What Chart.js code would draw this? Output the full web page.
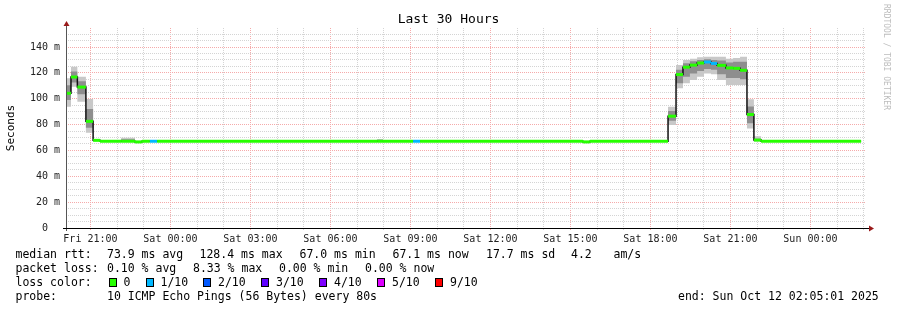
<!DOCTYPE html>
<html>
<head>
<meta charset="utf-8">
<script src="https://cdn.jsdelivr.net/npm/chart.js@4.4.1/dist/chart.umd.min.js"></script>
<style>
  html, body { margin: 0; padding: 0; background: #fff; }
  #wrap { position: relative; width: 897px; height: 310px; font-family: 'DejaVu Sans Mono', monospace; color: #000; overflow: hidden; }
  #chart { position: absolute; left: 0; top: 0; }
  #title { position: absolute; left: 0; top: 11px; width: 897px; text-align: center; font-size: 13px; line-height: 16px; }
  #credit { position: absolute; left: 882px; top: 4px; writing-mode: vertical-rl; font-size: 8px; line-height: 9px; color: #bdbdbd; }
  .t { position: absolute; white-space: pre; font-size: 11.5px; line-height: 14px; }
  .box { position: absolute; width: 6px; height: 7px; border: 1px solid #000; }
</style>
</head>
<body>
<div id="wrap">
  <canvas id="chart" width="897" height="310"></canvas>
  <div id="title">Last 30 Hours</div>
  <div id="credit">RRDTOOL / TOBI OETIKER</div>

  <span class="t" style="left:15.5px;top:247px">median rtt:</span>
  <span class="t" style="left:107px;top:247px">73.9 ms avg</span>
  <span class="t" style="left:199.5px;top:247px">128.4 ms max</span>
  <span class="t" style="left:299.5px;top:247px">67.0 ms min</span>
  <span class="t" style="left:392.5px;top:247px">67.1 ms now</span>
  <span class="t" style="left:486px;top:247px">17.7 ms sd</span>
  <span class="t" style="left:571px;top:247px">4.2</span>
  <span class="t" style="left:613.5px;top:247px">am/s</span>

  <span class="t" style="left:15.5px;top:261px">packet loss:</span>
  <span class="t" style="left:107px;top:261px">0.10 % avg</span>
  <span class="t" style="left:193px;top:261px">8.33 % max</span>
  <span class="t" style="left:279px;top:261px">0.00 % min</span>
  <span class="t" style="left:365px;top:261px">0.00 % now</span>

  <span class="t" style="left:15.5px;top:275px">loss color:</span>
  <div id="lossLegend"></div>

  <span class="t" style="left:15.5px;top:289px">probe:</span>
  <span class="t" style="left:107px;top:289px">10 ICMP Echo Pings (56 Bytes) every 80s</span>
  <span class="t" style="left:678px;top:289px">end: Sun Oct 12 02:05:01 2025</span>
</div>
<script>
// time is in hours counted from Fri 00:00, the graph covers 30 hours
const plotStart = 20.0836;
const plotEnd = 50.0836;

// start of each consolidated step (16 min) and end of the last one
const stepStart = [20.08, 20.27, 20.51, 20.83, 21.10, 21.36, 22.15, 22.67, 22.93, 23.23, 23.50,
  31.75, 31.97, 33.10, 33.36, 39.47, 39.73, 42.66, 42.96, 43.22, 43.48, 43.75, 44.01, 44.27,
  44.50, 44.83, 45.10, 45.36, 45.62, 45.88, 46.15];
const lastSample = 49.90;

// median rtt (ms)
const medianRtt = [104.2, 116.8, 109.0, 82.5, 67.8, 67.1, 67.1, 66.6, 67.1, 67.1, 67.1,
  67.1, 67.1, 67.1, 67.1, 66.6, 67.1, 86.5, 118.7, 124.4, 126.0, 127.6, 128.4, 127.3,
  125.8, 123.8, 123.5, 122.0, 87.8, 68.0, 67.1];
// lost pings out of 10
const lossCount = [0, 0, 0, 0, 0, 0, 0, 0, 0, 1, 0,
  0, 0, 1, 0, 0, 0, 0, 0, 0, 0, 0, 1, 1,
  0, 0, 0, 0, 0, 0, 0];
// smoke: full spread of the pings and the inner part
const smokeMin = [93.8, 109.3, 97.7, 73.7, 67.4, 67.0, 67.0, 66.5, 67.0, 67.0, 67.0,
  67.0, 67.0, 67.0, 67.0, 66.5, 67.0, 79.7, 108.0, 112.0, 114.5, 117.0, 119.5, 119.0,
  114.5, 110.6, 110.6, 110.6, 77.0, 67.0, 67.0];
const smokeMax = [115.8, 124.8, 117.0, 99.8, 68.3, 67.3, 69.8, 66.8, 67.3, 67.3, 67.3,
  68.9, 67.3, 67.3, 67.3, 66.8, 67.3, 93.8, 126.0, 130.0, 131.0, 132.0, 132.5, 132.5,
  132.5, 131.0, 131.5, 132.5, 99.5, 71.0, 67.3];
const smokeLo = [99.0, 112.5, 103.5, 77.5, 67.6, 67.1, 67.1, 66.6, 67.1, 67.1, 67.1,
  67.1, 67.1, 67.1, 67.1, 66.6, 67.1, 83.0, 112.0, 117.0, 119.5, 121.5, 123.0, 122.5,
  119.0, 116.0, 116.0, 115.0, 81.0, 67.4, 67.1];
const smokeHi = [110.5, 121.0, 113.5, 92.0, 68.1, 67.2, 68.6, 66.7, 67.2, 67.2, 67.2,
  68.2, 67.2, 67.2, 67.2, 66.7, 67.2, 90.5, 122.5, 127.5, 129.0, 130.0, 130.5, 130.0,
  129.5, 128.0, 128.5, 128.5, 94.0, 69.0, 67.2];

const lossColors = ['#26ff00', '#00b8ff', '#0059ff', '#5e00ff', '#7e00ff', '#dd00ff', '#ff0000'];
const lossLabels = ['0', '1/10', '2/10', '3/10', '4/10', '5/10', '9/10'];
const lossBoxX = [108.5, 145.5, 203, 261, 319, 377, 435];

const labelHours = [21, 24, 27, 30, 33, 36, 39, 42, 45, 48];
const labelText = ['Fri 21:00', 'Sat 00:00', 'Sat 03:00', 'Sat 06:00', 'Sat 09:00',
  'Sat 12:00', 'Sat 15:00', 'Sat 18:00', 'Sat 21:00', 'Sun 00:00'];
const yLabelValues = [0, 20, 40, 60, 80, 100, 120, 140];
const yLabelText = ['0  ', '20 m', '40 m', '60 m', '80 m', '100 m', '120 m', '140 m'];

const MAJOR = '#f5aaaa';
const MINOR = '#d4d4d4';

// loss colour legend
const lossLegend = document.getElementById('lossLegend');
lossLabels.forEach((txt, i) => {
  const b = document.createElement('div');
  b.className = 'box';
  b.style.left = lossBoxX[i] + 'px';
  b.style.top = '278px';
  b.style.background = lossColors[i];
  lossLegend.appendChild(b);
  const s = document.createElement('span');
  s.className = 't';
  s.style.left = (lossBoxX[i] + 15) + 'px';
  s.style.top = '275px';
  s.textContent = txt;
  lossLegend.appendChild(s);
});

function stepPoints(arr) {
  const out = stepStart.map((t, i) => ({ x: t, y: arr[i] }));
  out.push({ x: lastSample, y: arr[arr.length - 1] });
  return out;
}

// median split into separate horizontal pieces so each can get its loss colour
const medianPieces = [];
stepStart.forEach((t, i) => {
  const end = i + 1 < stepStart.length ? stepStart[i + 1] : lastSample;
  medianPieces.push({ x: t, y: medianRtt[i] }, { x: end, y: medianRtt[i] }, { x: end, y: null });
});

const hourTicks = [];
for (let h = 21; h <= 50; h++) hourTicks.push(h);
const minorY = [];
for (let v = 0; v <= 150; v += 5) minorY.push(v);

const axisArrows = {
  id: 'axisArrows',
  afterDraw(chart) {
    const { ctx, chartArea: a } = chart;
    ctx.save();
    ctx.lineWidth = 1;
    ctx.strokeStyle = '#555';
    ctx.beginPath();
    ctx.moveTo(a.left + 0.5, a.bottom + 3);
    ctx.lineTo(a.left + 0.5, a.top - 3);
    ctx.stroke();
    ctx.strokeStyle = '#000';
    ctx.beginPath();
    ctx.moveTo(a.left - 3, a.bottom + 0.5);
    ctx.lineTo(a.right + 3, a.bottom + 0.5);
    ctx.stroke();
    ctx.fillStyle = '#9a1a1a';
    ctx.beginPath();
    ctx.moveTo(a.left + 0.5, a.top - 7);
    ctx.lineTo(a.left - 2.5, a.top - 2);
    ctx.lineTo(a.left + 3.5, a.top - 2);
    ctx.closePath();
    ctx.fill();
    ctx.beginPath();
    ctx.moveTo(a.right + 8, a.bottom + 0.5);
    ctx.lineTo(a.right + 3, a.bottom - 2.5);
    ctx.lineTo(a.right + 3, a.bottom + 3.5);
    ctx.closePath();
    ctx.fill();
    ctx.restore();
  }
};

Chart.defaults.font.family = "'DejaVu Sans Mono', monospace";
Chart.defaults.color = '#222';

new Chart(document.getElementById('chart'), {
  type: 'line',
  data: {
    datasets: [
      {
        // median coloured by loss
        data: medianPieces,
        borderWidth: 3,
        borderCapStyle: 'butt',
        spanGaps: false,
        pointRadius: 0,
        segment: {
          borderColor: ctx => lossColors[lossCount[Math.floor(ctx.p0DataIndex / 3)]]
        }
      },
      {
        // thin black median with the step connectors
        data: stepPoints(medianRtt),
        stepped: true,
        borderColor: '#111',
        borderWidth: 1.5,
        pointRadius: 0
      },
      {
        data: stepPoints(smokeHi),
        stepped: true,
        borderWidth: 0,
        borderColor: 'rgba(0,0,0,0)',
        backgroundColor: '#8e8e8e',
        fill: '+1',
        pointRadius: 0
      },
      {
        data: stepPoints(smokeLo),
        stepped: true,
        borderWidth: 0,
        borderColor: 'rgba(0,0,0,0)',
        pointRadius: 0
      },
      {
        data: stepPoints(smokeMax),
        stepped: true,
        borderWidth: 0,
        borderColor: 'rgba(0,0,0,0)',
        backgroundColor: '#c8c8c8',
        fill: '+1',
        pointRadius: 0
      },
      {
        data: stepPoints(smokeMin),
        stepped: true,
        borderWidth: 0,
        borderColor: 'rgba(0,0,0,0)',
        pointRadius: 0
      }
    ]
  },
  options: {
    responsive: false,
    animation: false,
    devicePixelRatio: 1,
    layout: { padding: { left: 0, right: 31, top: 28, bottom: 62 } },
    plugins: {
      legend: { display: false },
      tooltip: { enabled: false }
    },
    scales: {
      x: {
        type: 'linear',
        min: plotStart,
        max: plotEnd,
        afterBuildTicks: s => { s.ticks = hourTicks.map(v => ({ value: v })); },
        afterFit: s => { s.height = 20; },
        ticks: {
          autoSkip: false,
          maxRotation: 0,
          padding: 3,
          font: { size: 10 },
          color: '#222',
          callback: v => {
            const i = labelHours.indexOf(v);
            return i >= 0 ? labelText[i] : '';
          }
        },
        grid: {
          color: ctx => (ctx.tick && ctx.tick.value % 3 === 0 ? MAJOR : MINOR),
          tickColor: ctx => (ctx.tick && ctx.tick.value % 3 === 0 ? MAJOR : MINOR),
          lineWidth: 1,
          drawTicks: true,
          tickLength: 2
        },
        border: { display: false, dash: [1, 1] }
      },
      y: {
        type: 'linear',
        min: 0,
        max: 154.7,
        afterBuildTicks: s => { s.ticks = minorY.map(v => ({ value: v })); },
        afterFit: s => { s.width = 66; },
        ticks: {
          autoSkip: false,
          padding: 6,
          font: { size: 10 },
          color: '#222',
          callback: v => {
            const i = yLabelValues.indexOf(v);
            return i >= 0 ? yLabelText[i] : '';
          }
        },
        grid: {
          color: ctx => (ctx.tick && ctx.tick.value % 20 === 0 ? MAJOR : MINOR),
          lineWidth: 1,
          drawTicks: false
        },
        border: { display: false, dash: [1, 1] },
        title: {
          display: true,
          text: 'Seconds',
          color: '#000',
          font: { size: 11 },
          padding: { top: 4.4, bottom: 0 }
        }
      }
    }
  },
  plugins: [axisArrows]
});
</script>
</body>
</html>
